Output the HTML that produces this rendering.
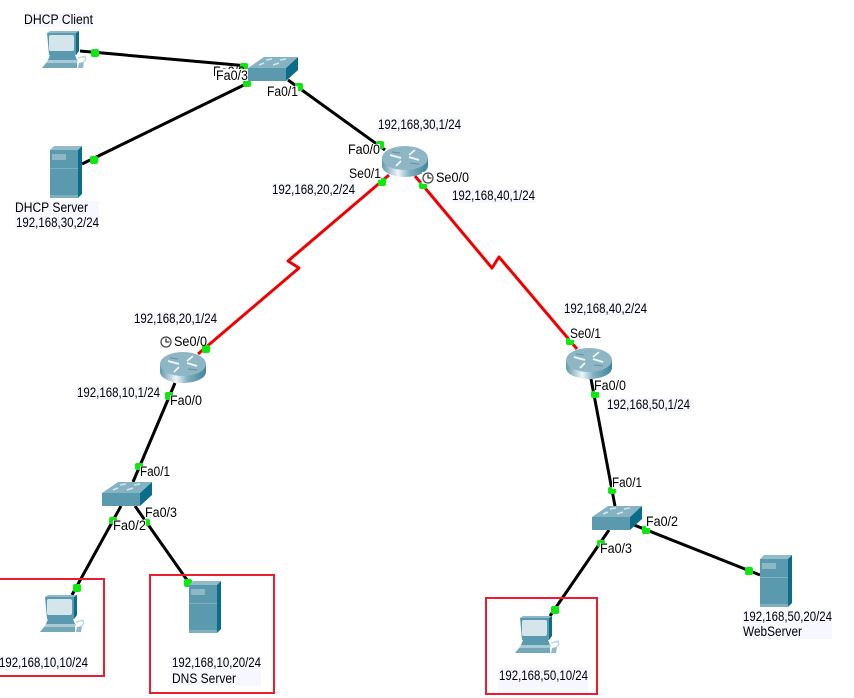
<!DOCTYPE html>
<html>
<head>
<meta charset="utf-8">
<style>
html,body{margin:0;padding:0;background:#fff;width:854px;height:698px;overflow:hidden}
svg{display:block}
text{font-family:"Liberation Sans",sans-serif;font-size:13.5px;fill:#000}
.k{stroke:#000;stroke-width:3;fill:none}
.r{stroke:#f00000;stroke-width:3;fill:none;stroke-linejoin:round}
.d{fill:#0fe80f}
.bg{fill:#f7f8ff}
.w{fill:#fff}
.box{fill:none;stroke:#ed1c2e;stroke-width:2}
</style>
</head>
<body>
<svg width="854" height="698" viewBox="0 0 854 698" xmlns="http://www.w3.org/2000/svg">
<defs>
<linearGradient id="rg" x1="0" x2="1" y1="0" y2="0">
<stop offset="0" stop-color="#5f99ac"/><stop offset=".35" stop-color="#eef5f7"/><stop offset=".6" stop-color="#7fb0c0"/><stop offset="1" stop-color="#3f8499"/>
</linearGradient>
<g id="pc">
<polygon points="5,2 34,2 34,24 7,24" fill="#5b9aae"/>
<polygon points="5,2 8,0 37,0 34,2" fill="#8fb9c6"/>
<polygon points="34,2 37,0 37,20 34,24" fill="#0b6d87"/>
<rect x="7" y="4" width="25" height="16" rx="2" fill="#d5e5ec"/>
<polygon points="8,24 33,24 35,29 6,29" fill="#5b9aae"/>
<polygon points="6,29 36,29 35,32 4,32" fill="#a9cbd6"/>
<polygon points="4,32 35,32 35,37 0,37" fill="#73a8b9"/>
<path d="M36 27 L44 25 M42 26 Q46 28 41 31" stroke="#b7d3dc" stroke-width="1.2" fill="none"/>
<polygon points="37,32 42,31 41,37 36,37" fill="#8fb9c6"/>
</g>
<g id="srv">
<polygon points="0,4 28,4 28,52 0,52" fill="#5b9aae"/>
<polygon points="0,4 4,0 32,0 28,4" fill="#93bcc9"/>
<polygon points="28,4 32,0 32,48 28,52" fill="#0b6d87"/>
<rect x="2" y="8" width="14" height="6" fill="#8db9c6"/>
<rect x="0" y="22" width="28" height="1" fill="#7fb0c0"/>
<rect x="0" y="49" width="28" height="3" fill="#7fb0c0"/>
</g>
<g id="sw">
<polygon points="0,11 16,0 50,0 38,11" fill="#86b3c2"/>
<rect x="0" y="11" width="38" height="13" fill="#5b9aae"/>
<polygon points="38,11 50,0 50,13 38,24" fill="#0b6d87"/>
<path d="M11 8 L16 6 M18 3 L24 2 M25 8 L31 6 M32 3 L38 2" stroke="#d6e6ec" stroke-width="1.6"/>
</g>
<g id="rt">
<path d="M0 12 V20 A23 11 0 0 0 46 20 V12 Z" fill="url(#rg)"/>
<ellipse cx="23" cy="12" rx="23" ry="12" fill="#8fb6c4"/>
<path d="M8 9 L19 12 M37 14 L27 11 M27 9 L33 4 M19 15 L14 20" stroke="#f2f8fa" stroke-width="1.7" fill="none"/>
<path d="M10 6 L18 7 M28 17 L37 18" stroke="#5f93a5" stroke-width="1"/>
</g>
<g id="clk">
<rect x="-6" y="-6" width="12" height="12" fill="#fff"/>
<circle cx="0" cy="0" r="5" fill="#fff" stroke="#444" stroke-width="1.2"/>
<path d="M0 -3.5 V0 H3.5" stroke="#111" stroke-width="1.1" fill="none"/>
</g>
</defs>

<!-- connectors -->
<line class="k" x1="80" y1="51" x2="248" y2="66"/>
<line class="k" x1="82" y1="164" x2="248" y2="83"/>
<line class="k" x1="288" y1="80" x2="385" y2="150"/>
<line class="k" x1="175" y1="383" x2="133" y2="482"/>
<line class="k" x1="121" y1="506" x2="72" y2="595"/>
<line class="k" x1="135" y1="506" x2="187" y2="580"/>
<line class="k" x1="591" y1="379" x2="615" y2="506"/>
<line class="k" x1="609" y1="530" x2="550" y2="616"/>
<line class="k" x1="634" y1="525" x2="760" y2="575"/>
<polyline class="r" points="389,175 288,261 299,268 198,354"/>
<polyline class="r" points="415,176 492,268 499,257 577,349"/>

<!-- endpoint dots -->
<g class="d">
<rect x="91" y="49" width="8" height="8" rx="2"/>
<rect x="90" y="156" width="8" height="8" rx="2"/>
<rect x="240" y="63" width="8" height="8" rx="2"/>
<rect x="243" y="80" width="8" height="7" rx="2"/>
<rect x="295" y="83" width="8" height="8" rx="2"/>
<rect x="376" y="141" width="8" height="8" rx="2"/>
<rect x="378" y="178" width="8" height="8" rx="2"/>
<rect x="419" y="182" width="8" height="7" rx="2"/>
<rect x="202" y="345" width="8" height="8" rx="2"/>
<rect x="165" y="392" width="8" height="8" rx="2"/>
<rect x="135" y="463" width="8" height="7" rx="2"/>
<rect x="109" y="517" width="8" height="7" rx="2"/>
<rect x="143" y="519" width="7" height="7" rx="2"/>
<rect x="73" y="584" width="8" height="8" rx="2"/>
<rect x="184" y="579" width="8" height="8" rx="2"/>
<rect x="566" y="338" width="8" height="7" rx="2"/>
<rect x="591" y="391" width="8" height="7" rx="2"/>
<rect x="608" y="487" width="8" height="7" rx="2"/>
<rect x="642" y="526" width="8" height="8" rx="2"/>
<rect x="597" y="540" width="8" height="7" rx="2"/>
<rect x="551" y="606" width="8" height="8" rx="2"/>
<rect x="745" y="567" width="8" height="8" rx="2"/>
</g>

<!-- devices -->
<use href="#pc" x="42" y="31"/>
<use href="#pc" x="40" y="595"/>
<use href="#pc" x="515" y="616"/>
<use href="#srv" x="50" y="146"/>
<use href="#srv" x="189" y="581"/>
<use href="#srv" x="760" y="555"/>
<use href="#sw" x="248" y="57"/>
<use href="#sw" x="102" y="482"/>
<use href="#sw" x="592" y="506"/>
<use href="#rt" x="382" y="146"/>
<use href="#rt" x="160" y="352"/>
<use href="#rt" x="566" y="348"/>
<use href="#clk" x="428" y="178"/>
<use href="#clk" x="166" y="342"/>

<!-- label backgrounds -->
<rect class="bg" x="24" y="13" width="69" height="14"/>
<rect class="bg" x="15" y="201" width="84" height="28"/>
<rect class="bg" x="378" y="118" width="84" height="14"/>
<rect class="bg" x="272" y="183" width="84" height="14"/>
<rect class="bg" x="452" y="189" width="84" height="14"/>
<rect class="bg" x="134" y="312" width="84" height="14"/>
<rect class="bg" x="77" y="386" width="84" height="14"/>
<rect class="bg" x="0" y="656" width="88" height="14"/>
<rect class="bg" x="171" y="657" width="90" height="29"/>
<rect class="bg" x="564" y="302" width="84" height="14"/>
<rect class="bg" x="607" y="398" width="84" height="14"/>
<rect class="bg" x="498" y="667" width="90" height="26"/>
<rect class="bg" x="742" y="610" width="90" height="29"/>

<!-- port label backgrounds -->
<rect class="w" x="267" y="86" width="31" height="12"/>
<rect class="w" x="348" y="144" width="32" height="12"/>
<rect class="w" x="349" y="168" width="32" height="12"/>
<rect class="w" x="170" y="395" width="32" height="12"/>
<rect class="w" x="140" y="466" width="30" height="12"/>
<rect class="w" x="145" y="507" width="32" height="12"/>
<rect class="w" x="113" y="520" width="33" height="12"/>
<rect class="w" x="570" y="328" width="31" height="12"/>
<rect class="w" x="595" y="380" width="31" height="12"/>
<rect class="w" x="612" y="477" width="30" height="12"/>
<rect class="w" x="646" y="516" width="32" height="12"/>
<rect class="w" x="600" y="543" width="32" height="12"/>

<!-- red boxes -->
<rect class="box" x="-5" y="579" width="109" height="97"/>
<rect class="box" x="150" y="575" width="124" height="118"/>
<rect class="box" x="486" y="598" width="111" height="96"/>

<!-- device / address labels -->
<text x="24" y="24" textLength="69" lengthAdjust="spacingAndGlyphs">DHCP Client</text>
<text x="15" y="212" textLength="73" lengthAdjust="spacingAndGlyphs">DHCP Server</text>
<text x="16" y="227" textLength="83" lengthAdjust="spacingAndGlyphs">192,168,30,2/24</text>
<text x="378" y="129" textLength="83" lengthAdjust="spacingAndGlyphs">192,168,30,1/24</text>
<text x="272" y="194" textLength="83" lengthAdjust="spacingAndGlyphs">192,168,20,2/24</text>
<text x="452" y="200" textLength="83" lengthAdjust="spacingAndGlyphs">192,168,40,1/24</text>
<text x="134" y="323" textLength="83" lengthAdjust="spacingAndGlyphs">192,168,20,1/24</text>
<text x="77" y="397" textLength="83" lengthAdjust="spacingAndGlyphs">192,168,10,1/24</text>
<text x="-1" y="667" textLength="89" lengthAdjust="spacingAndGlyphs">192,168,10,10/24</text>
<text x="172" y="667" textLength="89" lengthAdjust="spacingAndGlyphs">192,168,10,20/24</text>
<text x="172" y="683" textLength="64" lengthAdjust="spacingAndGlyphs">DNS Server</text>
<text x="564" y="313" textLength="83" lengthAdjust="spacingAndGlyphs">192,168,40,2/24</text>
<text x="607" y="409" textLength="83" lengthAdjust="spacingAndGlyphs">192,168,50,1/24</text>
<text x="499" y="680" textLength="89" lengthAdjust="spacingAndGlyphs">192,168,50,10/24</text>
<text x="743" y="621" textLength="89" lengthAdjust="spacingAndGlyphs">192,168,50,20/24</text>
<text x="743" y="636" textLength="59" lengthAdjust="spacingAndGlyphs">WebServer</text>

<!-- port labels -->
<text x="213" y="76" textLength="32" lengthAdjust="spacingAndGlyphs">Fa0/2</text>
<rect class="w" x="215" y="69" width="33" height="12"/>
<text x="216" y="80" textLength="32" lengthAdjust="spacingAndGlyphs">Fa0/3</text>
<text x="267" y="96" textLength="31" lengthAdjust="spacingAndGlyphs">Fa0/1</text>
<text x="348" y="154" textLength="32" lengthAdjust="spacingAndGlyphs">Fa0/0</text>
<text x="349" y="178" textLength="32" lengthAdjust="spacingAndGlyphs">Se0/1</text>
<text x="436" y="182" textLength="33" lengthAdjust="spacingAndGlyphs">Se0/0</text>
<text x="174" y="346" textLength="33" lengthAdjust="spacingAndGlyphs">Se0/0</text>
<text x="170" y="405" textLength="32" lengthAdjust="spacingAndGlyphs">Fa0/0</text>
<text x="140" y="476" textLength="30" lengthAdjust="spacingAndGlyphs">Fa0/1</text>
<text x="145" y="517" textLength="32" lengthAdjust="spacingAndGlyphs">Fa0/3</text>
<text x="113" y="530" textLength="33" lengthAdjust="spacingAndGlyphs">Fa0/2</text>
<text x="570" y="338" textLength="31" lengthAdjust="spacingAndGlyphs">Se0/1</text>
<text x="594" y="390" textLength="32" lengthAdjust="spacingAndGlyphs">Fa0/0</text>
<text x="612" y="487" textLength="30" lengthAdjust="spacingAndGlyphs">Fa0/1</text>
<text x="646" y="526" textLength="32" lengthAdjust="spacingAndGlyphs">Fa0/2</text>
<text x="600" y="553" textLength="32" lengthAdjust="spacingAndGlyphs">Fa0/3</text>
</svg>
</body>
</html>
